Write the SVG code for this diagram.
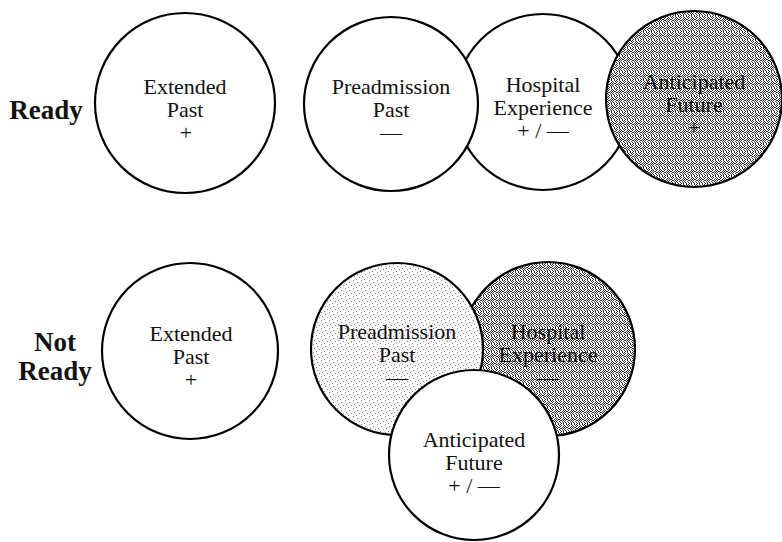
<svg xmlns="http://www.w3.org/2000/svg" width="782" height="542" viewBox="0 0 782 542">
  <style>
    .ring { stroke: #000; stroke-width: 2.2; }
    .plain { fill: #fff; }
    .dark { fill: url(#darkDots); }
    .light { fill: url(#lightDots); }
    .lbl { font-family: "Liberation Serif", "Times New Roman", serif; font-size: 22px; fill: #111; text-anchor: middle; }
    .row { font-family: "Liberation Serif", "Times New Roman", serif; font-size: 27px; font-weight: bold; fill: #111; text-anchor: middle; }
  </style>
  <defs>
    <!-- scattered dots for the heavy stipple (about 40% ink) -->
    <pattern id="darkDots" width="8" height="8" patternUnits="userSpaceOnUse">
      <rect width="8" height="8" fill="#fafafa"/>
      <path fill="#333" d="M0 0h1v1h-1z M3 0h1v1h-1z M6 0h1v1h-1z
        M1 1h1v1h-1z M4 1h1v1h-1z M7 1h1v1h-1z
        M0 2h1v1h-1z M3 2h1v1h-1z M5 2h1v1h-1z
        M2 3h1v1h-1z M4 3h1v1h-1z M6 3h1v1h-1z M7 3h1v1h-1z
        M0 4h1v1h-1z M1 4h1v1h-1z M3 4h1v1h-1z M5 4h1v1h-1z
        M2 5h1v1h-1z M4 5h1v1h-1z M7 5h1v1h-1z
        M0 6h1v1h-1z M3 6h1v1h-1z M5 6h1v1h-1z
        M1 7h1v1h-1z M3 7h1v1h-1z M6 7h1v1h-1z"/>
    </pattern>
    <!-- sparse dots for the light stipple -->
    <pattern id="lightDots" width="8" height="8" patternUnits="userSpaceOnUse">
      <rect width="8" height="8" fill="#fcfcfc"/>
      <path fill="#8a8a8a" d="M1 0h1v1h-1z M5 2h1v1h-1z M2 4h1v1h-1z M7 5h1v1h-1z M4 7h1v1h-1z"/>
    </pattern>
  </defs>
  <rect width="782" height="542" fill="#fff"/>

  <!-- row labels -->
  <text class="row" x="46" y="119">Ready</text>
  <text class="row" x="55" y="351">Not</text>
  <text class="row" x="55" y="380">Ready</text>

  <!-- Ready row -->
  <g id="ready-extended-past">
    <circle class="ring plain" cx="185" cy="103" r="90"/>
    <text class="lbl" x="185" y="94">Extended</text>
    <text class="lbl" x="185" y="117">Past</text>
    <text class="lbl" x="186" y="140">+</text>
  </g>
  <g id="ready-hospital-experience">
    <circle class="ring plain" cx="543" cy="102" r="88"/>
    <text class="lbl" x="543" y="92">Hospital</text>
    <text class="lbl" x="543" y="115">Experience</text>
    <text class="lbl" x="543" y="138">+ / —</text>
  </g>
  <g id="ready-preadmission-past">
    <circle class="ring plain" cx="391" cy="104" r="87"/>
    <text class="lbl" x="391" y="94">Preadmission</text>
    <text class="lbl" x="391" y="117">Past</text>
    <text class="lbl" x="391" y="140">—</text>
  </g>
  <g id="ready-anticipated-future">
    <circle class="ring dark" cx="694" cy="99" r="88"/>
    <text class="lbl" x="694" y="89">Anticipated</text>
    <text class="lbl" x="694" y="112">Future</text>
    <text class="lbl" x="694" y="135">+</text>
  </g>

  <!-- Not Ready row -->
  <g id="notready-extended-past">
    <circle class="ring plain" cx="190" cy="351" r="88"/>
    <text class="lbl" x="191" y="341">Extended</text>
    <text class="lbl" x="191" y="364">Past</text>
    <text class="lbl" x="191" y="387">+</text>
  </g>
  <g id="notready-hospital-experience">
    <circle class="ring dark" cx="548" cy="349" r="87"/>
    <text class="lbl" x="548" y="339">Hospital</text>
    <text class="lbl" x="548" y="362">Experience</text>
    <text class="lbl" x="548" y="385">—</text>
  </g>
  <g id="notready-preadmission-past">
    <circle class="ring light" cx="397" cy="349" r="86"/>
    <text class="lbl" x="397" y="339">Preadmission</text>
    <text class="lbl" x="397" y="362">Past</text>
    <text class="lbl" x="397" y="385">—</text>
  </g>
  <g id="notready-anticipated-future">
    <circle class="ring plain" cx="474" cy="455" r="85"/>
    <text class="lbl" x="474" y="447">Anticipated</text>
    <text class="lbl" x="474" y="470">Future</text>
    <text class="lbl" x="474" y="493">+ / —</text>
  </g>

  <!-- no connectors in this figure -->
  <g id="connectors"/>
</svg>
